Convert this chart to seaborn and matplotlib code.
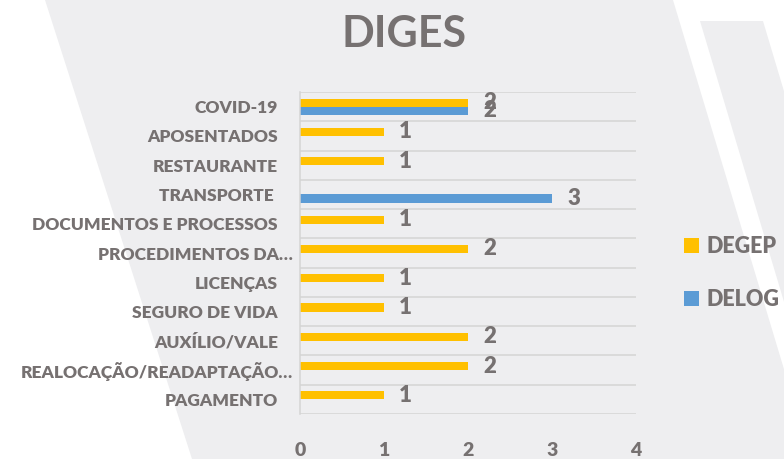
import numpy as np
import pandas as pd
import seaborn as sns
import matplotlib.pyplot as plt
import matplotlib.transforms as mtransforms
from matplotlib.patches import Polygon

# data
categories = ["COVID-19", "APOSENTADOS", "RESTAURANTE", "TRANSPORTE ",
              "DOCUMENTOS E PROCESSOS", "PROCEDIMENTOS DA…", "LICENÇAS",
              "SEGURO DE VIDA", "AUXÍLIO/VALE", "REALOCAÇÃO/READAPTAÇÃO…",
              "PAGAMENTO"]
degep = [2, 1, 1, 0, 1, 2, 1, 1, 2, 2, 1]
delog = [2, 0, 0, 3, 0, 0, 0, 0, 0, 0, 0]
series = ["DEGEP", "DELOG"]
colors = ["#FFC000", "#5B9BD5"]
xticks = [0, 1, 2, 3, 4]

df = pd.DataFrame({
    "categoria": categories * 2,
    "valor": degep + delog,
    "setor": [series[0]] * len(categories) + [series[1]] * len(categories),
})

sns.set_theme(style="white")
plt.rcParams["font.family"] = ["Lato", "DejaVu Sans"]
grey = "#767171"
W, H = 784, 459
wt = "heavy"

fig = plt.figure(figsize=(W / 100, H / 100), dpi=100)
fig.patch.set_facecolor("white")


def px_poly(pts, color):
    # background shapes given in figure pixels (y from top)
    xy = [(x / W, 1 - y / H) for x, y in pts]
    fig.patches.append(Polygon(xy, closed=True, transform=fig.transFigure,
                               facecolor=color, edgecolor="none", zorder=-10))


px_poly([(45, 0), (673, 0), (811, 459), (192, 459)], "#EEEEF0")
px_poly([(700, 21), (763, 21), (894, 459), (831, 459)], "#EEEEF0")

ax = fig.add_axes([300 / W, 1 - 414 / H, 336 / W, 322 / H])
ax.set_facecolor("none")

sns.barplot(data=df, y="categoria", x="valor", hue="setor", hue_order=series,
            palette=colors, orient="h", width=0.55, saturation=1,
            linewidth=0, ax=ax)

for cont, vals in zip(ax.containers, [degep, delog]):
    ax.bar_label(cont, labels=[str(v) if v else "" for v in vals], padding=11,
                 fontsize=16, fontweight=wt, color=grey)

ax.set_xlim(0, 4)
ax.set_ylim(len(categories) - 0.5, -0.5)
ax.set_xticks(xticks)
ax.set_yticks(np.arange(-0.5, len(categories)), minor=True)
ax.grid(False)
ax.grid(which="minor", axis="y", color="#D4D4D4", linewidth=1.1)
ax.tick_params(which="both", length=0)
ax.tick_params(axis="y", pad=16, labelsize=12.5, labelcolor=grey)
ax.tick_params(axis="x", pad=20, labelsize=14, labelcolor=grey)
for lab in ax.get_yticklabels() + ax.get_xticklabels():
    lab.set_fontweight(wt)
# truncated labels stick out a bit further right, as in the original
shift = mtransforms.ScaledTranslation(15 / 100, 0, fig.dpi_scale_trans)
for lab in ax.get_yticklabels():
    if lab.get_text().endswith("…"):
        lab.set_transform(lab.get_transform() + shift)

for s in ["top", "right", "bottom"]:
    ax.spines[s].set_visible(False)
ax.spines["left"].set_color("#D4D4D4")
ax.spines["left"].set_linewidth(1.1)
ax.set_xlabel("")
ax.set_ylabel("")

handles, labels = ax.get_legend_handles_labels()
leg = ax.legend(handles, labels, loc="center left",
                bbox_to_anchor=(684 / W, 1 - 273 / H),
                bbox_transform=fig.transFigure, frameon=False, borderpad=0,
                borderaxespad=0, handlelength=0.7, handleheight=0.7,
                handletextpad=0.35, labelspacing=1.5,
                prop={"size": 15.5, "weight": wt}, labelcolor=grey)

fig.text(404 / W, 1 - 34 / H, "DIGES", ha="center", va="center",
         fontsize=31, fontweight="bold", color=grey)

fig.savefig("out.png", dpi=100)
